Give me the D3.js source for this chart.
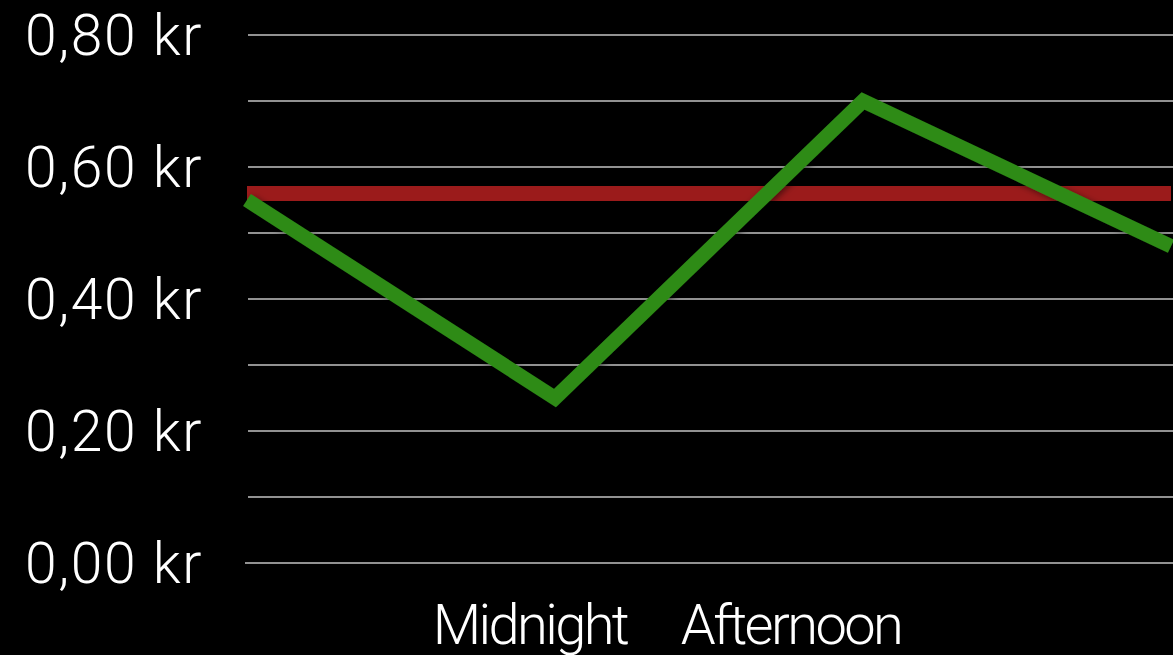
<!DOCTYPE html>
<html>
<head>
<meta charset="utf-8">
<script src="https://cdn.jsdelivr.net/npm/d3@7"></script>
<style>
  html, body { margin: 0; padding: 0; background: #000; }
  svg { display: block; }
  text { font-family: "Roboto", "Liberation Sans", sans-serif; font-weight: 300; fill: #fff; }
</style>
</head>
<body>
<svg id="chart" width="1173" height="655"></svg>
<script>
// Price per period (kr)
const periods = ["Evening", "Midnight", "Afternoon", "Night"];
const prices = [0.55, 0.25, 0.70, 0.48];
// Average price reference line
const averagePrice = 0.56;
// Axis labels
const yTicks = [0, 0.2, 0.4, 0.6, 0.8];
const gridTicks = [0, 0.1, 0.2, 0.3, 0.4, 0.5, 0.6, 0.7, 0.8];
const xLabels = ["Midnight", "Afternoon"];

const width = 1173, height = 655;
const margin = { top: 35, right: 2, bottom: 92, left: 247 };

const svg = d3.select("#chart");

const x = d3.scalePoint()
  .domain(periods)
  .range([margin.left, width - margin.right]);

const y = d3.scaleLinear()
  .domain([0, 0.8])
  .range([height - margin.bottom, margin.top]);

const fmt = v => d3.format(".2f")(v).replace(".", ",") + " kr";

// Horizontal gridlines
svg.append("g")
  .selectAll("line")
  .data(gridTicks)
  .join("line")
  .attr("x1", d => d === 0 ? margin.left - 2 : margin.left + 1)
  .attr("x2", width)
  .attr("y1", d => y(d))
  .attr("y2", d => y(d))
  .attr("stroke", "#929292")
  .attr("stroke-width", 2);

// Y axis labels
svg.append("g")
  .selectAll("text")
  .data(yTicks)
  .join("text")
  .attr("x", 203)
  .attr("y", d => y(d))
  .attr("dy", "0.35em")
  .attr("text-anchor", "end")
  .attr("font-size", 57)
  .attr("letter-spacing", 1.6)
  .text(fmt);

// X axis labels (shifted left of their points)
const labelShift = { "Midnight": -25, "Afternoon": -72 };
svg.append("g")
  .selectAll("text")
  .data(xLabels)
  .join("text")
  .attr("x", d => x(d) + labelShift[d])
  .attr("y", 644)
  .attr("text-anchor", "middle")
  .attr("font-size", 56)
  .attr("letter-spacing", -2.6)
  .text(d => d);

// Average line
svg.append("line")
  .attr("x1", margin.left)
  .attr("x2", width - margin.right)
  .attr("y1", y(averagePrice))
  .attr("y2", y(averagePrice))
  .attr("stroke", "#9b1b1b")
  .attr("stroke-width", 15);

// Shadow for the price line
const defs = svg.append("defs");
const f = defs.append("filter").attr("id", "shadow")
  .attr("x", "-10%").attr("y", "-10%").attr("width", "120%").attr("height", "120%");
f.append("feDropShadow").attr("dx", 2).attr("dy", 2).attr("stdDeviation", 3)
  .attr("flood-color", "#000").attr("flood-opacity", 0.5);

// Price line
const line = d3.line()
  .x((d, i) => x(periods[i]))
  .y(d => y(d));

svg.append("path")
  .datum(prices)
  .attr("d", line)
  .attr("fill", "none")
  .attr("stroke", "#2e8b19")
  .attr("stroke-width", 14.5)
  .attr("stroke-linejoin", "miter")
  .attr("stroke-linecap", "butt")
  .attr("filter", "url(#shadow)");
</script>
</body>
</html>
